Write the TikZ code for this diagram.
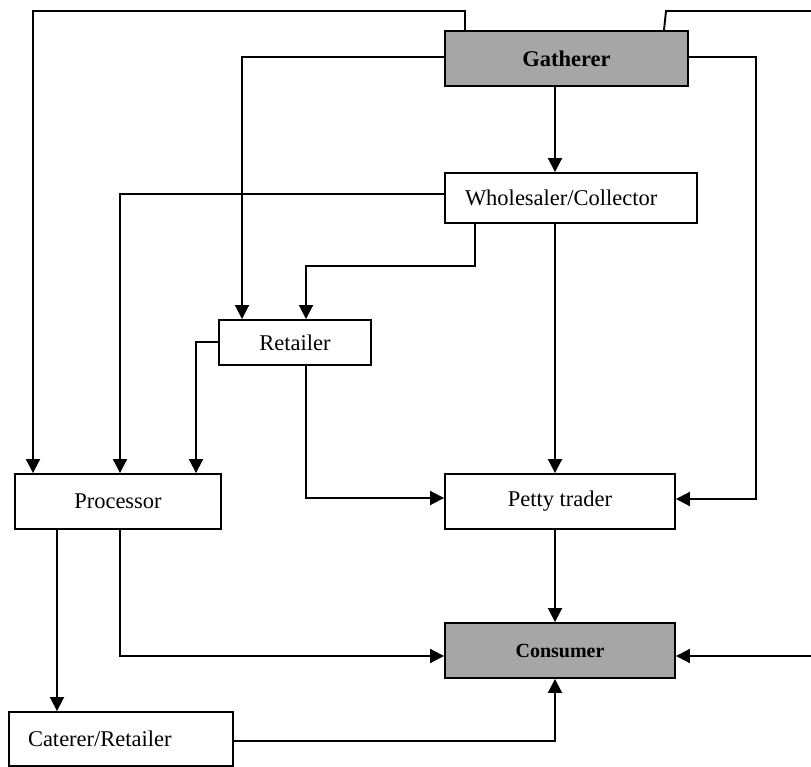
\documentclass[tikz,border=0pt]{standalone}
\usepackage{fontspec}
\setmainfont{Liberation Serif}
\usetikzlibrary{arrows.meta}
\definecolor{boxgray}{RGB}{166,166,166}
\tikzset{
  flowbox/.style={draw=black, line width=1.9pt, fill=white, rectangle, inner sep=0pt,
    font=\fontsize{22.5}{27}\selectfont},
  keybox/.style={flowbox, fill=boxgray, font=\fontsize{22.5}{27}\selectfont\bfseries},
  link/.style={line width=1.9pt, -{Triangle[length=14pt,width=14pt]}},
}
\begin{document}
\begin{tikzpicture}[x=1pt,y=-1pt]
\useasboundingbox (0,0) rectangle (811,767);

% actors
\node[keybox, minimum width=243pt, minimum height=55pt] (g) at (566.5,58.5) {Gatherer};
\node[flowbox, minimum height=50pt, text width=212pt, inner xsep=20pt, align=left] (w) at (571,198) {Wholesaler/Collector};
\node[flowbox, minimum width=152pt, minimum height=45pt] (r) at (295,342.5) {Retailer};
\node[flowbox, minimum width=206pt, minimum height=55pt] (p) at (118,501.5) {Processor};
\node[flowbox, minimum width=230pt, minimum height=55pt] (pt) at (560,501.5) {Petty trader};
\node[keybox, minimum width=230pt, minimum height=55pt, font=\fontsize{20}{24}\selectfont\bfseries] (c) at (560,650.5) {Consumer};
\node[flowbox, minimum height=54pt, text width=186pt, inner xsep=19pt, align=left] (cr) at (121,739) {Caterer/Retailer};

% flows out of the gatherer
\draw[link] (465,0 |- g.north) -- (465,11) -- (33,11) -- (p.north -| 33,0);
\draw[link] (664,0 |- g.north) -- (666,11) -- (814,11) -- (814,656) -- (c.east |- 0,656);
\draw[link] (g.west |- 0,57) -| (r.north -| 242,0);
\draw[link] (g.east |- 0,57) -- (756,57) -- (756,499) -- (pt.east |- 0,499);
\draw[link] (g.south -| 555,0) -- (w.north -| 555,0);

% flows out of the wholesaler/collector
\draw[link] (w.west |- 0,194) -| (p.north -| 120,0);
\draw[link] (w.south -| 475,0) |- (306,266) -- (r.north -| 306,0);
\draw[link] (w.south -| 555,0) -- (pt.north -| 555,0);

% flows out of the retailer
\draw[link] (r.west |- 0,342) -| (p.north -| 196,0);
\draw[link] (r.south -| 306,0) |- (pt.west |- 0,498);

% flows out of the processor
\draw[link] (p.south -| 57,0) -- (cr.north -| 57,0);
\draw[link] (p.south -| 120,0) |- (c.west |- 0,656);

% flows into the consumer
\draw[link] (pt.south -| 555,0) -- (c.north -| 555,0);
\draw[link] (cr.east |- 0,741) -| (c.south -| 555,0);
\end{tikzpicture}
\end{document}
